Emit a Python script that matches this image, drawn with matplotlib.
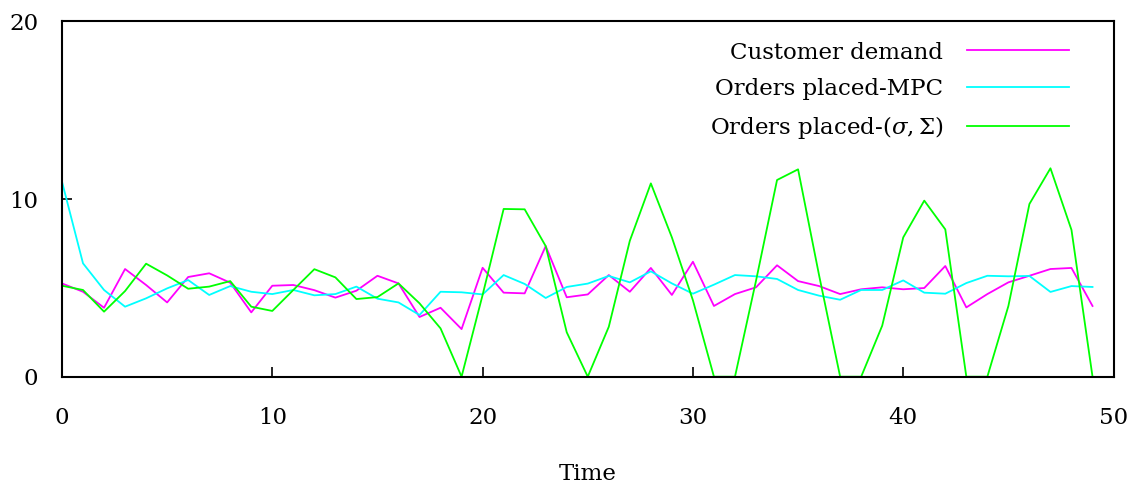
import numpy as np
import matplotlib
matplotlib.use('Agg')
import matplotlib.pyplot as plt

plt.rcParams['font.family'] = ['DejaVu Serif']
plt.rcParams['mathtext.fontset'] = 'dejavuserif'

# time steps and series
time = np.arange(50)

demand = [5.25, 4.78, 3.88, 6.06, 5.16, 4.18, 5.61, 5.82, 5.29, 3.62,
          5.12, 5.16, 4.87, 4.45, 4.84, 5.68, 5.25, 3.36, 3.88, 2.68,
          6.13, 4.73, 4.69, 7.35, 4.47, 4.63, 5.72, 4.78, 6.12, 4.60,
          6.47, 3.98, 4.65, 5.03, 6.27, 5.38, 5.10, 4.65, 4.92, 5.03,
          4.92, 4.99, 6.23, 3.90, 4.65, 5.31, 5.68, 6.06, 6.12, 3.98]

orders_mpc = [10.98, 6.38, 4.88, 3.94, 4.41, 4.97, 5.44, 4.60, 5.10, 4.78,
              4.65, 4.88, 4.58, 4.65, 5.07, 4.39, 4.18, 3.47, 4.78, 4.75,
              4.63, 5.72, 5.22, 4.43, 5.05, 5.24, 5.67, 5.31, 5.93, 5.25,
              4.67, 5.18, 5.72, 5.65, 5.50, 4.88, 4.56, 4.33, 4.88, 4.88,
              5.42, 4.73, 4.67, 5.27, 5.68, 5.65, 5.67, 4.77, 5.10, 5.05]

orders_ss = [5.12, 4.88, 3.66, 4.82, 6.36, 5.70, 4.95, 5.07, 5.38, 3.94,
             3.70, 4.88, 6.05, 5.59, 4.37, 4.48, 5.25, 4.13, 2.72, 0.0,
             4.6, 9.44, 9.42, 7.35, 2.5, 0.0, 2.81, 7.65, 10.88, 7.84,
             4.3, 0.0, 0.0, 5.4, 11.07, 11.67, 5.7, 0.0, 0.0, 2.87,
             7.84, 9.91, 8.29, 0.0, 0.0, 3.98, 9.72, 11.73, 8.26, 0.0]

fig = plt.figure(figsize=(11.35, 4.87), dpi=100)
ax = fig.add_axes([0.0546, 0.2265, 0.9265, 0.7297])

ax.plot(time, demand, color='#ff00ff', lw=1.3, label='Customer demand')
ax.plot(time, orders_mpc, color='#00ffff', lw=1.3, label='Orders placed-MPC')
ax.plot(time, orders_ss, color='#00ff00', lw=1.3,
        label=r'Orders placed-($\sigma,\Sigma$)')

ax.set_xlim(0, 50)
ax.set_ylim(0, 20)
ax.set_xticks(range(0, 51, 10))
ax.set_yticks([0, 10, 20])
ax.tick_params(direction='in', length=7, width=1.2, labelsize=16.5)
ax.tick_params(axis='x', pad=22)
ax.tick_params(axis='y', pad=17)
for s in ax.spines.values():
    s.set_linewidth(1.5)
ax.set_xlabel('Time', fontsize=16.5, labelpad=24)

ax.legend(loc='upper right', bbox_to_anchor=(0.9666, 0.969), frameon=False,
          markerfirst=False, fontsize=16.5, handlelength=4.45,
          labelspacing=0.62, handletextpad=1.05, borderaxespad=0)

fig.savefig('out.png', dpi=100)
